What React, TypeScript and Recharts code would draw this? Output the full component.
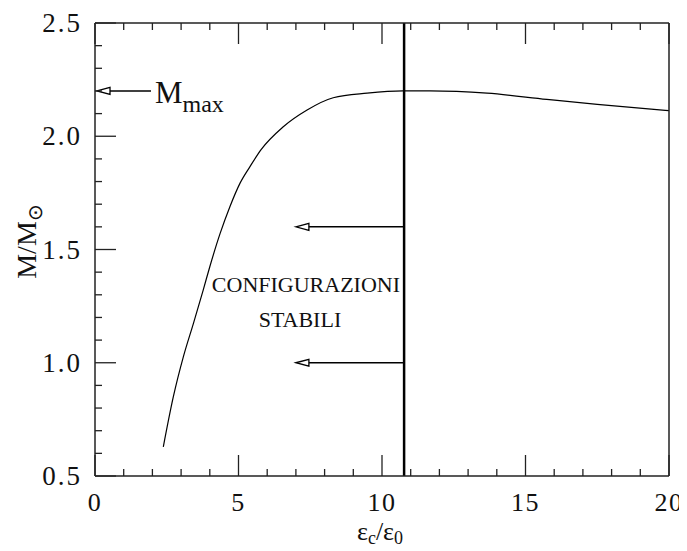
import {
  ComposedChart,
  Line,
  XAxis,
  YAxis,
  ReferenceLine,
  ReferenceDot,
  Label,
} from "recharts";

// curve: M/Msun vs eps_c/eps_0
const EPS_RATIO = [2.38, 2.73, 3.08, 3.43, 3.77, 4.0, 4.36, 4.7, 5.05, 5.4, 5.78, 6.55, 7.39, 8.3, 9.48, 10.73, 11.67, 13.66, 15.74, 17.5, 20];
const MASS = [0.629, 0.85, 1.027, 1.174, 1.321, 1.424, 1.571, 1.689, 1.792, 1.866, 1.94, 2.041, 2.116, 2.17, 2.19, 2.2, 2.2, 2.19, 2.163, 2.141, 2.113];

const X_TICKS = [0, 1, 2, 3, 4, 5, 6, 7, 8, 9, 10, 11, 12, 13, 14, 15, 16, 17, 18, 19, 20];
const X_LABELS = ["0", "5", "10", "15", "20"];
const Y_TICKS = [0.5, 0.6, 0.7, 0.8, 0.9, 1.0, 1.1, 1.2, 1.3, 1.4, 1.5, 1.6, 1.7, 1.8, 1.9, 2.0, 2.1, 2.2, 2.3, 2.4, 2.5];
const Y_LABELS = ["0.5", "1.0", "1.5", "2.0", "2.5"];

const STABILITY_LIMIT = 10.77;
const M_MAX = 2.2;
const ARROW_LEVELS = [1.6, 1.0];
const ARROW_END = 7.0;
const NOTE_LINES = ["CONFIGURAZIONI", "STABILI"];

const data = EPS_RATIO.map((x, i) => ({ x, m: MASS[i] }));

const FONT = "'Liberation Serif', 'Times New Roman', serif";
const INK = "#222";

const isMajorX = (v: number) => Math.abs(v % 5) < 1e-6;
const isMajorY = (v: number) => Math.abs(v * 2 - Math.round(v * 2)) < 1e-6;

function xLabel(v: number) {
  return X_LABELS.find((l) => Number(l) === v);
}
function yLabel(v: number) {
  return Y_LABELS.find((l) => Math.abs(Number(l) - v) < 1e-6);
}

// ticks point inward, majors longer
function makeXTick(dir: number, showLabel: boolean) {
  return function XTick(props: any) {
    const x = Number(props.x);
    const y = Number(props.y);
    const v = Number(props.payload?.value);
    const len = isMajorX(v) ? 21 : 7;
    const lab = xLabel(v);
    return (
      <g>
        <path d={`M${x},${y}L${x},${y - dir * len}`} stroke={INK} strokeWidth={1.3} fill="none" />
        {showLabel && lab !== undefined && (
          <text x={x} y={y + 35} textAnchor="middle" fontFamily={FONT} fontSize={26} fill="#111" letterSpacing={1.5}>
            {lab}
          </text>
        )}
      </g>
    );
  };
}

function makeYTick(dir: number, showLabel: boolean) {
  return function YTick(props: any) {
    const x = Number(props.x);
    const y = Number(props.y);
    const v = Number(props.payload?.value);
    const len = isMajorY(v) ? 21 : 7;
    const lab = yLabel(v);
    return (
      <g>
        <path d={`M${x},${y}L${x + dir * len},${y}`} stroke={INK} strokeWidth={1.3} fill="none" />
        {showLabel && lab !== undefined && (
          <text x={x - 13} y={y + 9} textAnchor="end" fontFamily={FONT} fontSize={27} fill="#111" letterSpacing={2}>
            {lab}
          </text>
        )}
      </g>
    );
  };
}

function ArrowShape(props: any) {
  const { x1, y1, x2, y2 } = props;
  return (
    <g>
      <line x1={x1} y1={y1} x2={x2 + 12} y2={y2} stroke="#000" strokeWidth={1.5} />
      <polygon
        points={`${x2},${y2} ${x2 + 13},${y2 - 3.5} ${x2 + 13},${y2 + 3.5}`}
        fill="#fff"
        stroke="#000"
        strokeWidth={1.3}
      />
    </g>
  );
}

function MaxArrowShape(props: any) {
  const { x1, y1 } = props;
  return (
    <g>
      <ArrowShape {...props} />
      <text x={x1 + 4} y={y1 + 12} fontFamily={FONT} fontSize={31} fill="#111">
        M
        <tspan fontSize={24} dy={9}>max</tspan>
      </text>
    </g>
  );
}

function NoteShape(props: any) {
  const { cx, cy } = props;
  return (
    <text fontFamily={FONT} fontSize={22} fill="#111" textAnchor="middle">
      <tspan x={cx} y={cy}>{NOTE_LINES[0]}</tspan>
      <tspan x={cx - 6} y={cy + 35}>{NOTE_LINES[1]}</tspan>
    </text>
  );
}

export default function App() {
  return (
    <div style={{ width: 679, height: 543 }}>
      <ComposedChart
        width={679}
        height={543}
        data={data}
        margin={{ top: 14, right: 17, bottom: 0, left: 0 }}
      >
        <XAxis
          dataKey="x"
          type="number"
          domain={[0, 20]}
          ticks={X_TICKS}
          interval={0}
          height={75}
          tickSize={0}
          tickMargin={0}
          tickLine={false}
          axisLine={{ stroke: INK, strokeWidth: 1.5 }}
          tick={makeXTick(1, true)}
        >
          <Label
            content={(p: any) => {
              const vb = p.viewBox;
              const cx = vb.x + vb.width / 2 - 2;
              const by = vb.y + 64;
              return (
                <text x={cx} y={by} textAnchor="middle" fontFamily={FONT} fontSize={26} fill="#111">
                  ε<tspan fontSize={18} dy={4}>c</tspan>
                  <tspan dy={-4}>/ε</tspan>
                  <tspan fontSize={18} dy={4}>0</tspan>
                </text>
              );
            }}
          />
        </XAxis>
        <XAxis
          xAxisId="top"
          orientation="top"
          type="number"
          domain={[0, 20]}
          ticks={X_TICKS}
          interval={0}
          height={1}
          tickSize={0}
          tickMargin={0}
          tickLine={false}
          axisLine={{ stroke: INK, strokeWidth: 1.5 }}
          tick={makeXTick(-1, false)}
        />
        <YAxis
          type="number"
          domain={[0.5, 2.5]}
          ticks={Y_TICKS}
          interval={0}
          width={87}
          tickSize={0}
          tickMargin={0}
          tickLine={false}
          axisLine={{ stroke: INK, strokeWidth: 1.5 }}
          tick={makeYTick(1, true)}
        >
          <Label
            content={(p: any) => {
              const vb = p.viewBox;
              const cx = 28;
              const cy = vb.y + vb.height / 2 - 8;
              return (
                <text
                  x={cx}
                  y={cy}
                  transform={`rotate(-90 ${cx} ${cy})`}
                  textAnchor="middle"
                  fontFamily={FONT}
                  fontSize={28}
                  fill="#111"
                >
                  M/M<tspan fontSize={20} dy={6}>⊙</tspan>
                </text>
              );
            }}
          />
        </YAxis>
        <YAxis
          yAxisId="right"
          orientation="right"
          type="number"
          domain={[0.5, 2.5]}
          ticks={Y_TICKS}
          interval={0}
          width={1}
          tickSize={0}
          tickMargin={0}
          tickLine={false}
          axisLine={{ stroke: INK, strokeWidth: 1.5 }}
          tick={makeYTick(-1, false)}
        />
        <Line
          type="monotone"
          dataKey="m"
          stroke="#000"
          strokeWidth={1.2}
          dot={false}
          activeDot={false}
          isAnimationActive={false}
        />
        <ReferenceLine x={STABILITY_LIMIT} stroke="#000" strokeWidth={2.5} />
        {ARROW_LEVELS.map((lv) => (
          <ReferenceLine
            key={lv}
            segment={[
              { x: STABILITY_LIMIT, y: lv },
              { x: ARROW_END, y: lv },
            ]}
            shape={ArrowShape}
          />
        ))}
        <ReferenceLine
          segment={[
            { x: 1.95, y: M_MAX },
            { x: 0.07, y: M_MAX },
          ]}
          shape={MaxArrowShape}
        />
        <ReferenceDot x={7.35} y={1.312} r={0} shape={NoteShape} />
      </ComposedChart>
    </div>
  );
}
